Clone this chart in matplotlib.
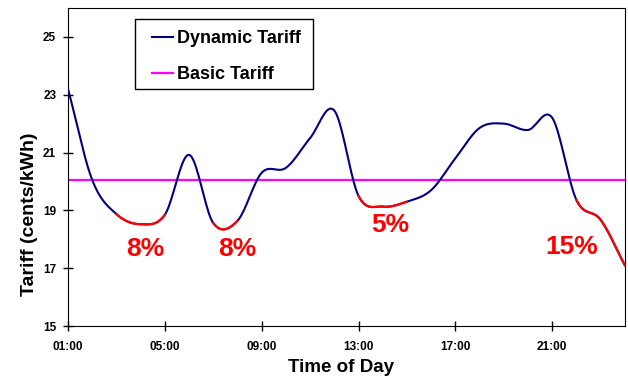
"""
Dynamic vs basic tariff over the day
"""

import matplotlib
matplotlib.use("Agg")
import matplotlib.pyplot as plt
from matplotlib.patches import Rectangle
import numpy as np

plt.rcParams['font.family'] = ['Liberation Sans', 'DejaVu Sans']

hours = np.arange(1, 25)
dynamic_tariff = [23.2, 20.05, 18.87, 18.52, 18.85, 20.92, 18.56, 18.64,
                  20.3, 20.47, 21.5, 22.45, 19.5, 19.13, 19.3, 19.7,
                  20.8, 21.85, 22.0, 21.78, 22.2, 19.36, 18.67, 17.1]
basic_tariff = 20.05

# low-price windows (start hour, end hour) and the saving shown under each
saving_windows = [(3, 5), (7, 8), (13, 15), (22, 24)]
saving_labels = ["8%", "8%", "5%", "15%"]
label_pos = [(4.2, 17.65), (8.0, 17.65), (14.3, 18.5), (21.8, 17.75)]

tick_hours = [1, 5, 9, 13, 17, 21]
tick_labels = ["01:00", "05:00", "09:00", "13:00", "17:00", "21:00"]


def smooth(x, y, n=20):
    # Catmull-Rom smoothing, like a "smoothed line" chart
    x = np.asarray(x, float)
    y = np.asarray(y, float)
    m = np.empty_like(y)
    m[1:-1] = (y[2:] - y[:-2]) / 2
    m[0] = y[1] - y[0]
    m[-1] = y[-1] - y[-2]
    xs, ys = [], []
    for i in range(len(x) - 1):
        t = np.linspace(0, 1, n, endpoint=False)
        h00 = 2 * t**3 - 3 * t**2 + 1
        h10 = t**3 - 2 * t**2 + t
        h01 = -2 * t**3 + 3 * t**2
        h11 = t**3 - t**2
        xs.append(x[i] + t * (x[i + 1] - x[i]))
        ys.append(h00 * y[i] + h10 * m[i] + h01 * y[i + 1] + h11 * m[i + 1])
    xs.append([x[-1]])
    ys.append([y[-1]])
    return np.concatenate(xs), np.concatenate(ys)


fig = plt.figure(figsize=(6.28, 3.79), dpi=100)
ax = fig.add_axes([0.1083, 0.1398, 0.8867, 0.8392])

sx, sy = smooth(hours, dynamic_tariff)
ax.plot(sx, sy, color="#000080", lw=1.5, label="Dynamic Tariff", zorder=3)
ax.axhline(basic_tariff, color="#FF00FF", lw=1.6, label="Basic Tariff", zorder=2)

for (a, b), txt, (lx, ly) in zip(saving_windows, saving_labels, label_pos):
    mask = (sx >= a - 1e-9) & (sx <= b + 1e-9)
    ax.plot(sx[mask], sy[mask], color="#FF0000", lw=1.6, zorder=4)
    ax.text(lx, ly, txt, color="#FF0000", fontsize=19, fontweight="bold",
            ha="center", va="center")

ax.set_xlim(1, 24)
ax.set_ylim(15, 26)
ax.set_xticks(tick_hours)
ax.set_xticklabels(tick_labels)
ax.set_yticks([15, 17, 19, 21, 23, 25])
ax.tick_params(direction="inout", length=7, width=1, labelsize=8.5)
for lab in ax.get_xticklabels() + ax.get_yticklabels():
    lab.set_fontweight("bold")
ax.tick_params(axis="x", pad=7)
ax.tick_params(axis="y", pad=5)

ax.set_xlabel("Time of Day", fontsize=13.5, fontweight="bold", va="center")
ax.xaxis.set_label_coords(0.49, -0.129)
ax.set_ylabel("Tariff (cents/kWh)", fontsize=14, fontweight="bold", va="center")
ax.yaxis.set_label_coords(-0.069, 0.35)

# legend box drawn separately so the padding matches
ax.add_patch(Rectangle((0.1203, 0.7453), 0.3196, 0.2201, transform=ax.transAxes,
                       facecolor="white", edgecolor="black", lw=1.0, zorder=5))
leg = ax.legend(loc="upper left", bbox_to_anchor=(0.1508, 0.931),
                prop={"weight": "bold", "size": 13}, frameon=False,
                handlelength=1.15, handletextpad=0.25,
                borderpad=0, labelspacing=1.05, borderaxespad=0)
leg.set_zorder(6)

fig.savefig("out.png", dpi=100)
